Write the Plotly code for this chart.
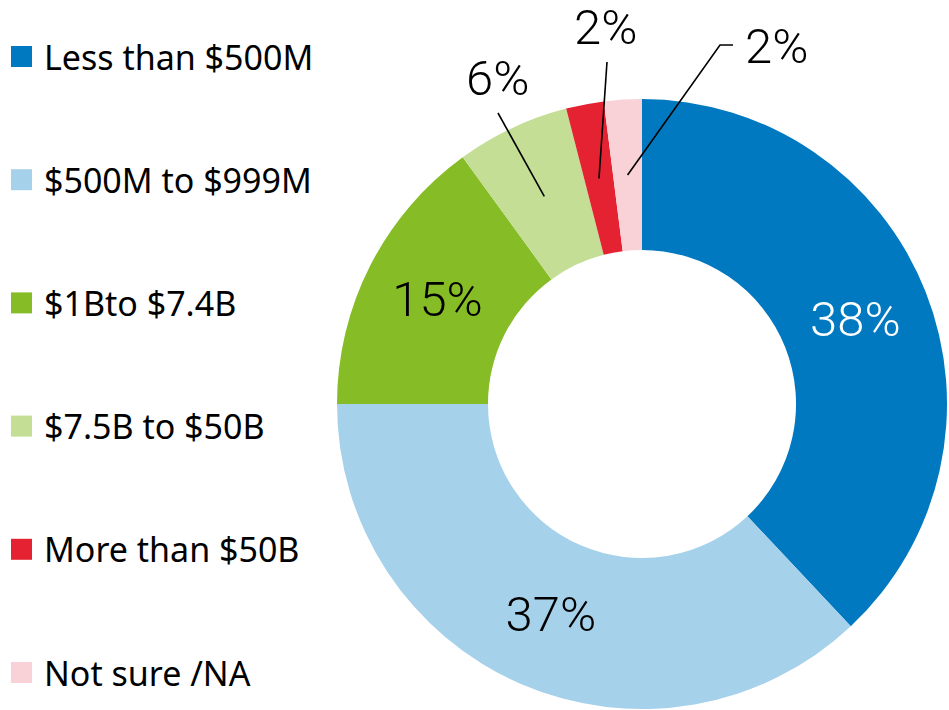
import math
import plotly.graph_objects as go

# ---- data ----
labels = ["Less than $500M", "$500M to $999M", "$1Bto $7.4B",
          "$7.5B to $50B", "More than $50B", "Not sure /NA"]
values = [38, 37, 15, 6, 2, 2]
colors = ["#0079C1", "#A6D1EA", "#86BC25", "#C4DF95", "#E52232", "#F9D2D8"]
inside_font_colors = ["white", "black", "black", "black", "black", "black"]
text_positions = ["inside", "inside", "inside", "none", "none", "none"]

# ---- geometry (pixels) ----
W, H = 949, 710
CX, CY, R = 642, 404, 305
HOLE = 0.505
R_MID = R * (1 + HOLE) / 2

LEG_FONT = "Noto Sans"
PCT_FONT = "Roboto Light, Roboto, Noto Sans"
PCT_SIZE = 49


def px(x):
    return x / W


def py(y):
    return 1 - y / H


fig = go.Figure()
fig.add_trace(go.Pie(
    labels=labels, values=values, sort=False, direction="clockwise", rotation=0,
    hole=HOLE,
    marker=dict(colors=colors, line=dict(width=0)),
    texttemplate="%{value}%", textposition=text_positions,
    insidetextorientation="horizontal",
    insidetextfont=dict(family=PCT_FONT, size=PCT_SIZE, color=inside_font_colors, weight=300),
    domain=dict(x=[px(CX - R), px(CX + R)], y=[py(CY + R), py(CY - R)]),
    showlegend=False, hoverinfo="label+percent",
))

# mid angles (clockwise from 12 o'clock) of each slice
total = sum(values)
mids = []
acc = 0
for v in values:
    mids.append((acc + v / 2) / total * 2 * math.pi)
    acc += v


def polar(angle, r):
    return CX + r * math.sin(angle), CY - r * math.cos(angle)


shapes = []
annotations = []

# outside labels with leader lines (layout offsets in pixels)
outside = {
    3: dict(end=(498, 113), text=(497, 79), anchor="center"),
    4: dict(end=(607, 62), text=(605, 28), anchor="center"),
    5: dict(end=(720, 45), elbow=(733, 45), text=(743, 46), anchor="left"),
}
for i, cfg in outside.items():
    sx, sy = polar(mids[i], R_MID)
    pts = [(sx, sy), cfg["end"]]
    if "elbow" in cfg:
        pts.append(cfg["elbow"])
    path = "M " + " L ".join(f"{px(x)},{py(y)}" for x, y in pts)
    shapes.append(dict(type="path", path=path, xref="paper", yref="paper",
                       line=dict(color="black", width=1.6)))
    tx, ty = cfg["text"]
    annotations.append(dict(x=px(tx), y=py(ty), xref="paper", yref="paper",
                            text=f"{values[i]}%", showarrow=False,
                            xanchor=cfg["anchor"], yanchor="middle",
                            font=dict(family=PCT_FONT, size=PCT_SIZE, color="black", weight=300)))

# manual legend
LEG_Y0, LEG_STEP, SQ = 56.5, 123.2, 21
for i, (lab, col) in enumerate(zip(labels, colors)):
    yc = LEG_Y0 + i * LEG_STEP
    shapes.append(dict(type="rect", xref="paper", yref="paper",
                       x0=px(11), x1=px(11 + SQ), y0=py(yc + SQ / 2), y1=py(yc - SQ / 2),
                       fillcolor=col, line=dict(width=0)))
    annotations.append(dict(x=px(42), y=py(yc), xref="paper", yref="paper",
                            text=lab, showarrow=False, xanchor="left", yanchor="middle",
                            font=dict(family=LEG_FONT, size=34, color="black")))

fig.update_layout(
    width=W, height=H, margin=dict(l=0, r=0, t=0, b=0),
    paper_bgcolor="white", plot_bgcolor="white",
    shapes=shapes, annotations=annotations,
)
fig.write_html("out.html", config={"displayModeBar": False},
               post_script="document.body.style.margin='0';document.body.style.overflow='hidden';")
